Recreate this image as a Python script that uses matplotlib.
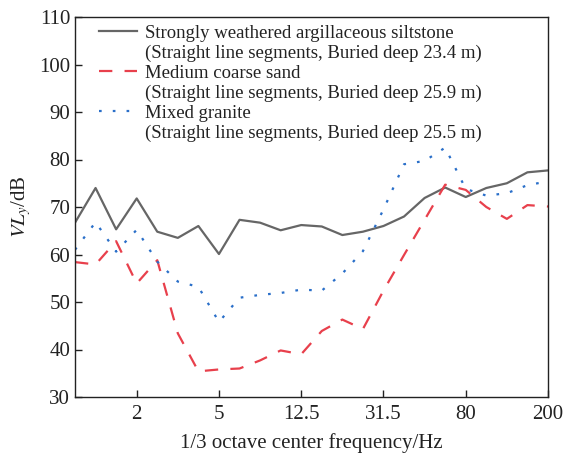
import matplotlib
matplotlib.use("Agg")
import matplotlib.pyplot as plt
from matplotlib.lines import Line2D
import numpy as np

plt.rcParams['font.family'] = ['Liberation Serif', 'DejaVu Serif']
plt.rcParams['mathtext.fontset'] = 'stix'

freqs = ["1", "1.25", "1.6", "2", "2.5", "3.15", "4", "5", "6.3", "8", "10", "12.5",
         "16", "20", "25", "31.5", "40", "50", "63", "80", "100", "125", "160", "200"]
tick_labels = ["2", "5", "12.5", "31.5", "80", "200"]

siltstone = [66.7, 74.0, 65.3, 71.8, 64.8, 63.5, 66.0, 60.1, 67.3, 66.7, 65.1, 66.2,
             65.9, 64.1, 64.8, 66.0, 68.0, 71.9, 74.1, 72.1, 74.0, 75.0, 77.3, 77.7]
sand = [58.4, 57.9, 62.8, 53.9, 58.8, 43.4, 35.4, 35.8, 36.0, 37.7, 39.8, 39.0,
        43.9, 46.3, 44.3, 52.4, 59.9, 67.3, 74.7, 73.6, 70.0, 67.5, 70.4, 70.1]
granite = [61.0, 66.8, 60.6, 65.2, 58.5, 54.3, 53.2, 45.8, 50.9, 51.5, 51.9, 52.6,
           52.4, 56.0, 60.7, 69.5, 79.0, 79.7, 82.5, 73.8, 72.4, 72.9, 74.6, 75.4]

names = ["Strongly weathered argillaceous siltstone", "Medium coarse sand", "Mixed granite"]
notes = ["(Straight line segments, Buried deep 23.4 m)",
         "(Straight line segments, Buried deep 25.9 m)",
         "(Straight line segments, Buried deep 25.5 m)"]

fig = plt.figure(figsize=(5.63, 4.57), dpi=100)
ax = fig.add_axes([75/563, 1-397/457, 473/563, 380/457])

x = np.arange(len(freqs))
l1, = ax.plot(x, siltstone, color='#666666', lw=1.6)
l2, = ax.plot(x, sand, color='#e8404c', lw=1.6, linestyle=(0, (6, 5.5)))
l3, = ax.plot(x, granite, color='#2a6fc9', lw=1.6, linestyle=(0, (1.2, 5)))

ax.set_xlim(0, len(freqs)-1)
ax.set_ylim(30, 110)
ticks_idx = [freqs.index(t) for t in tick_labels]
ax.set_xticks(ticks_idx)
ax.set_xticklabels(tick_labels)
ax.set_yticks(np.arange(30, 111, 10))
ax.tick_params(direction='in', labelsize=15, length=5, width=1, colors='#222222')
ax.tick_params(axis='x', pad=6)
for s in ax.spines.values():
    s.set_linewidth(1.0)
    s.set_color('#222222')

ax.set_xlabel("1/3 octave center frequency/Hz", fontsize=15, color='#222222', labelpad=6)
ax.set_ylabel("$VL_y$/dB", fontsize=15, color='#222222', labelpad=4)

blank = Line2D([], [], color='none')
handles, texts = [], []
for h, n, note in zip([l1, l2, l3], names, notes):
    handles += [h, blank]
    texts += [n, note]

leg = ax.legend(handles, texts, loc='upper left', bbox_to_anchor=(0.035, 1.0), frameon=False,
                fontsize=13.5, handlelength=2.0, handletextpad=0.45, labelspacing=0.15,
                borderaxespad=0.15, borderpad=0.25)
for t in leg.get_texts():
    t.set_color('#222222')

fig.savefig("out.png", dpi=100)
